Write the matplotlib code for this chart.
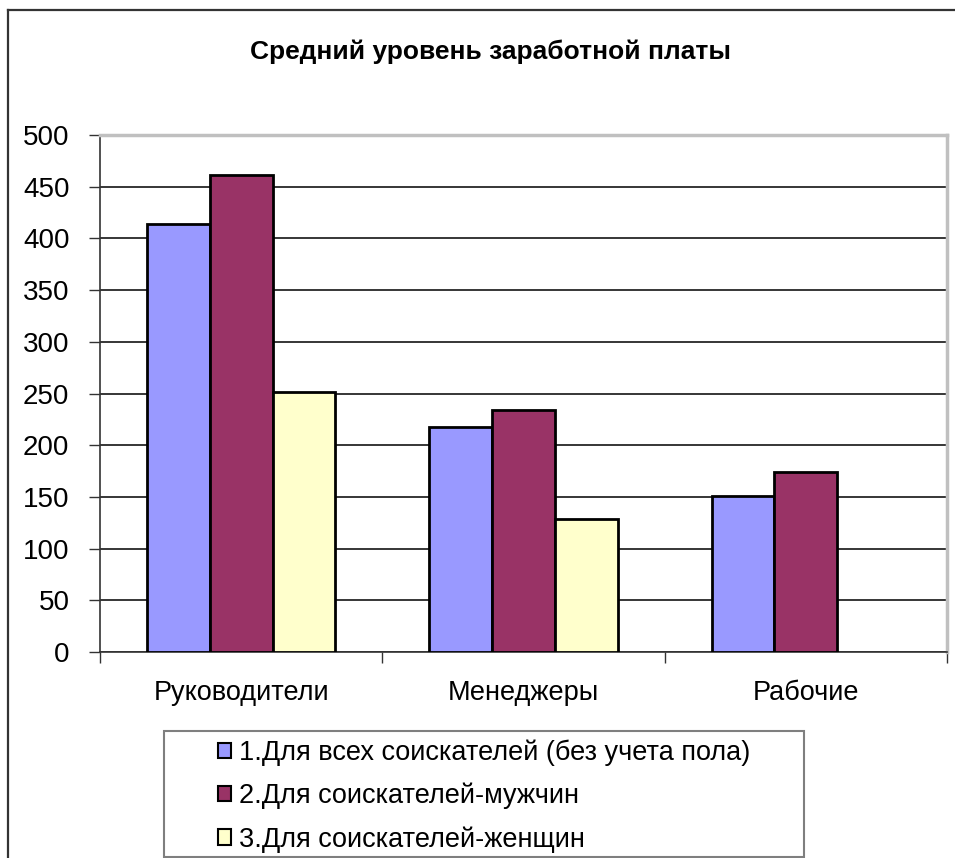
import numpy as np
import matplotlib
matplotlib.use("Agg")
import matplotlib.pyplot as plt
from matplotlib.patches import Rectangle, Patch
from matplotlib.lines import Line2D

plt.rcParams['font.family'] = ['Liberation Sans', 'DejaVu Sans']

title = "Средний уровень заработной платы"
categories = ["Руководители", "Менеджеры", "Рабочие"]
series_names = [
    "1.Для всех соискателей (без учета пола)",
    "2.Для соискателей-мужчин",
    "3.Для соискателей-женщин",
]
all_applicants = [414, 218, 151]
men = [461, 234, 174]
women = [251, 129, np.nan]
series_values = [all_applicants, men, women]
colors = ["#9999FF", "#993366", "#FFFFCC"]
y_ticks = [0, 50, 100, 150, 200, 250, 300, 350, 400, 450, 500]

W, H = 955, 858
fig = plt.figure(figsize=(W / 100, H / 100), dpi=100)
fig.patch.set_facecolor("white")

# plot area in pixel units
px_l, px_r, px_t, px_b = 100, 947, 135, 652
ax = fig.add_axes([px_l / W, 1 - px_b / H, (px_r - px_l) / W, (px_b - px_t) / H])

n_series = len(series_values)
bar_w = 1 / (n_series + 1.5)
centers = np.arange(len(categories)) + 0.5
for i, (vals, col) in enumerate(zip(series_values, colors)):
    x = centers + (i - (n_series - 1) / 2) * bar_w
    ax.bar(x, vals, width=bar_w, color=col, edgecolor="black", linewidth=2,
           zorder=3, label=series_names[i])

ax.set_xlim(0, len(categories))
ax.set_ylim(0, 500)
ax.set_yticks(y_ticks)
ax.set_yticklabels([str(v) for v in y_ticks])
ax.yaxis.grid(True, color="black", linewidth=1.1, zorder=0)
ax.set_axisbelow(True)

ax.set_xticks(np.arange(len(categories) + 1))
ax.set_xticklabels([])
ax.set_xticks(centers, minor=True)
ax.set_xticklabels(categories, minor=True)
ax.tick_params(axis="x", which="minor", length=0, pad=20, labelsize=19.5)
ax.tick_params(axis="x", which="major", direction="out", length=8, width=1, color="#333333")
ax.tick_params(axis="y", direction="out", length=8, width=1, color="#333333",
               labelsize=20, pad=14)

for side in ("top", "right"):
    ax.spines[side].set_color("#c0c0c0")
    ax.spines[side].set_linewidth(2.5)
ax.spines["left"].set_color("#333333")
ax.spines["left"].set_linewidth(1.2)
ax.spines["bottom"].set_color("#333333")
ax.spines["bottom"].set_linewidth(1.2)

fig.text(490 / W, 1 - 52 / H, title, ha="center", va="center",
         fontsize=19, fontweight="bold")

# outer chart frame
fig.add_artist(Line2D([8 / W, 8 / W], [0, 1 - 10 / H], transform=fig.transFigure,
                      color="#333333", linewidth=1.6))
fig.add_artist(Line2D([8 / W, 1], [1 - 10 / H, 1 - 10 / H], transform=fig.transFigure,
                      color="#333333", linewidth=1.6))

# legend box
lg_l, lg_r, lg_t, lg_b = 164, 804, 731, 857
fig.add_artist(Rectangle((lg_l / W, 1 - lg_b / H), (lg_r - lg_l) / W, (lg_b - lg_t) / H,
                         transform=fig.transFigure, facecolor="white",
                         edgecolor="#7f7f7f", linewidth=1.5, zorder=1))
handles = [Patch(facecolor=c, edgecolor="black", linewidth=1.5) for c in colors]
fig.legend(handles, series_names, loc="center",
           bbox_to_anchor=((lg_l + lg_r) / 2 / W, 1 - (lg_t + lg_b + 4) / 2 / H),
           frameon=False, fontsize=19.5, handlelength=0.5, handleheight=0.5,
           handletextpad=0.3, labelspacing=0.62, borderpad=0)

fig.savefig("out.png", dpi=100, facecolor="white")
